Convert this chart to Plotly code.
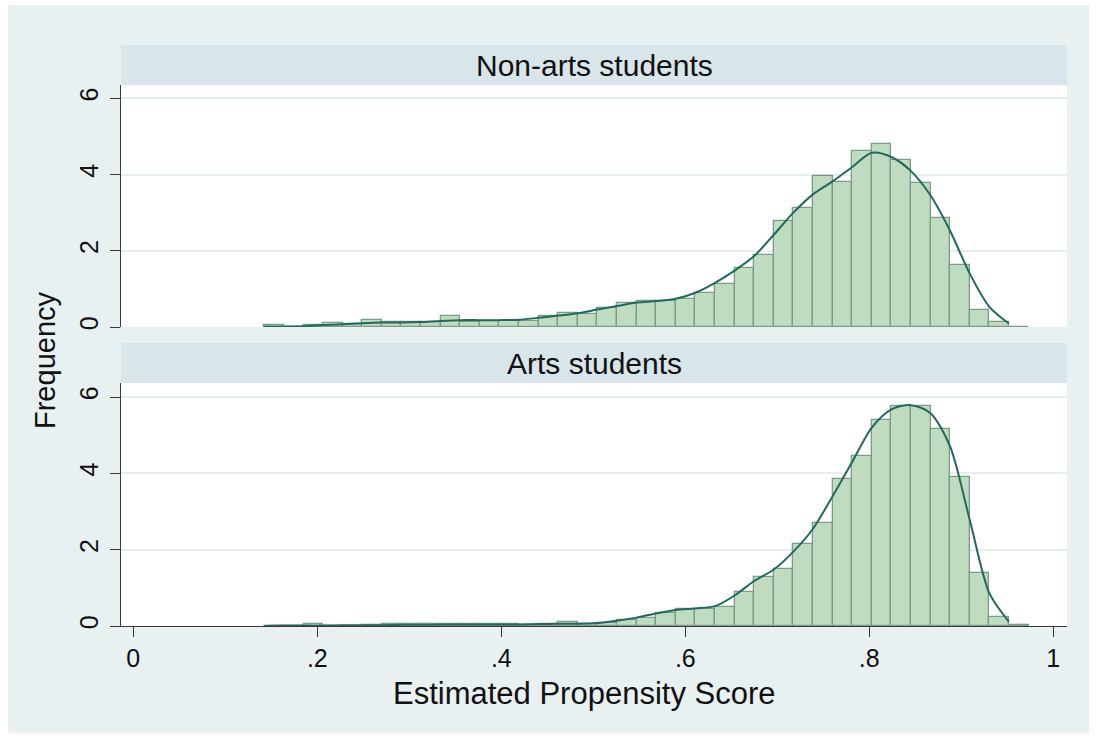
import plotly.graph_objects as go

# Histogram bins shared by both groups (density scale)
bin_start = 0.1424
bin_width = 0.0213
n_bins = 39

non_arts_freq = [0.04, 0.01, 0.04, 0.11, 0.08, 0.18, 0.14, 0.14, 0.13, 0.29,
                 0.14, 0.15, 0.15, 0.15, 0.29, 0.36, 0.34, 0.50, 0.62, 0.68,
                 0.69, 0.73, 0.90, 1.12, 1.56, 1.88, 2.78, 3.13, 3.96, 3.81,
                 4.63, 4.79, 4.37, 3.77, 2.85, 1.62, 0.45, 0.12, 0.00]

arts_freq = [0.01, 0.00, 0.06, 0.01, 0.01, 0.02, 0.04, 0.04, 0.04, 0.05,
             0.05, 0.05, 0.04, 0.03, 0.05, 0.11, 0.05, 0.07, 0.16, 0.22,
             0.33, 0.45, 0.45, 0.50, 0.89, 1.29, 1.49, 2.15, 2.71, 3.86,
             4.46, 5.41, 5.77, 5.77, 5.16, 3.91, 1.40, 0.23, 0.03]

# Kernel density estimates, evaluated at the bin edges
non_arts_kde = [0.01, 0.01, 0.02, 0.05, 0.07, 0.10, 0.12, 0.12, 0.13, 0.16,
                0.18, 0.18, 0.18, 0.19, 0.24, 0.30, 0.36, 0.46, 0.55, 0.64,
                0.68, 0.74, 0.90, 1.16, 1.48, 1.86, 2.42, 3.00, 3.48, 3.82,
                4.20, 4.57, 4.46, 4.09, 3.45, 2.52, 1.40, 0.53, 0.09]

arts_kde = [0.00, 0.01, 0.01, 0.01, 0.02, 0.02, 0.02, 0.03, 0.03, 0.04,
            0.04, 0.04, 0.04, 0.04, 0.05, 0.06, 0.06, 0.08, 0.14, 0.22,
            0.33, 0.42, 0.46, 0.52, 0.80, 1.18, 1.48, 1.95, 2.55, 3.40,
            4.30, 5.20, 5.68, 5.79, 5.58, 4.70, 2.78, 0.86, 0.11]

panel_titles = ["Non-arts students", "Arts students"]
x_title = "Estimated Propensity Score"
y_title = "Frequency"
x_tick_vals = [0, 0.2, 0.4, 0.6, 0.8, 1]
x_tick_text = ["0", ".2", ".4", ".6", ".8", "1"]
y_tick_vals = [0, 2, 4, 6]
y_tick_text = ["0", "2", "4", "6"]

bin_centers = [bin_start + bin_width * (i + 0.5) for i in range(n_bins)]
kde_x = [bin_start + bin_width * i for i in range(n_bins)]

# Styling
FONT = "Liberation Sans, Arial, Helvetica, sans-serif"
OUTER_BG = "#e8f0f2"
STRIP_BG = "#d8e5ea"
GRID = "#e6eef0"
BAR_FILL = "#c0dcc0"
BAR_EDGE = "#7a9c88"
KDE_COLOR = "#22685e"
AXIS_COLOR = "#3a3a3a"
TEXT_COLOR = "#111111"

W, H = 1096, 738
ML, MR, MT, MB = 121, 29, 45, 112
PW, PH = W - ML - MR, H - MT - MB


def px_x(p):
    return (p - ML) / PW


def px_y(p):
    return (H - MB - p) / PH


top_dom = [px_y(327), px_y(85)]
bot_dom = [0.0, px_y(383)]
x_range = [-0.01337, 1.0149]

fig = go.Figure()

panels = [
    (non_arts_freq, non_arts_kde, "x", "y"),
    (arts_freq, arts_kde, "x2", "y2"),
]
for freq, kde, xa, ya in panels:
    fig.add_trace(go.Bar(
        x=bin_centers, y=freq, width=bin_width,
        marker=dict(color=BAR_FILL, line=dict(color=BAR_EDGE, width=1.3)),
        xaxis=xa, yaxis=ya, showlegend=False, hoverinfo="skip",
    ))
    fig.add_trace(go.Scatter(
        x=kde_x, y=kde, mode="lines",
        line=dict(color=KDE_COLOR, width=2, shape="spline", smoothing=0.8),
        xaxis=xa, yaxis=ya, showlegend=False, hoverinfo="skip",
    ))

yaxis_style = dict(
    tickvals=y_tick_vals, ticktext=y_tick_text, ticks="outside", ticklen=10,
    tickwidth=1.3, tickcolor=AXIS_COLOR, showline=True, linecolor=AXIS_COLOR,
    linewidth=1.3, showgrid=True, gridcolor=GRID, gridwidth=1.5, zeroline=False,
    tickangle=-90, ticklabelstandoff=2,
    tickfont=dict(family=FONT, size=25, color=TEXT_COLOR),
)

fig.update_layout(
    width=W, height=H,
    margin=dict(l=ML, r=MR, t=MT, b=MB),
    paper_bgcolor="white",
    plot_bgcolor="rgba(0,0,0,0)",
    bargap=0,
    xaxis=dict(domain=[0, 1], anchor="y", range=x_range, showticklabels=False,
               ticks="", showline=False, showgrid=False, zeroline=False),
    yaxis=dict(domain=top_dom, anchor="x", range=[0, 6.35], **yaxis_style),
    xaxis2=dict(domain=[0, 1], anchor="y2", range=x_range,
                tickvals=x_tick_vals, ticktext=x_tick_text, ticks="outside",
                ticklen=10, tickwidth=1.3, tickcolor=AXIS_COLOR, showline=True,
                linecolor=AXIS_COLOR, linewidth=1.3, showgrid=False,
                zeroline=False, ticklabelstandoff=0,
                tickfont=dict(family=FONT, size=25, color=TEXT_COLOR)),
    yaxis2=dict(domain=bot_dom, anchor="x2", range=[0, 6.37], **yaxis_style),
)

# Background frame, plot regions and panel header strips
shapes = [
    dict(type="rect", xref="paper", yref="paper", layer="below",
         x0=px_x(8), x1=px_x(1089), y0=px_y(733), y1=px_y(5),
         fillcolor=OUTER_BG, line=dict(width=0)),
    dict(type="rect", xref="paper", yref="paper", layer="below",
         x0=0, x1=1, y0=top_dom[0], y1=top_dom[1],
         fillcolor="white", line=dict(width=0)),
    dict(type="rect", xref="paper", yref="paper", layer="below",
         x0=0, x1=1, y0=bot_dom[0], y1=bot_dom[1],
         fillcolor="white", line=dict(width=0)),
    dict(type="rect", xref="paper", yref="paper", layer="below",
         x0=0, x1=1, y0=px_y(85), y1=px_y(45),
         fillcolor=STRIP_BG, line=dict(width=0)),
    dict(type="rect", xref="paper", yref="paper", layer="below",
         x0=0, x1=1, y0=px_y(383), y1=px_y(343),
         fillcolor=STRIP_BG, line=dict(width=0)),
]
fig.update_layout(shapes=shapes)

annotations = [
    dict(text=panel_titles[0], x=0.5, y=px_y(65), xref="paper", yref="paper",
         showarrow=False, font=dict(family=FONT, size=30, color=TEXT_COLOR),
         xanchor="center", yanchor="middle"),
    dict(text=panel_titles[1], x=0.5, y=px_y(363), xref="paper", yref="paper",
         showarrow=False, font=dict(family=FONT, size=30, color=TEXT_COLOR),
         xanchor="center", yanchor="middle"),
    dict(text=x_title, x=px_x(584), y=px_y(693), xref="paper", yref="paper",
         showarrow=False, font=dict(family=FONT, size=31, color=TEXT_COLOR),
         xanchor="center", yanchor="middle"),
    dict(text=y_title, x=px_x(45), y=px_y(360), xref="paper", yref="paper",
         showarrow=False, textangle=-90,
         font=dict(family=FONT, size=29, color=TEXT_COLOR),
         xanchor="center", yanchor="middle"),
]
fig.update_layout(annotations=annotations)

fig.write_html("out.html")
